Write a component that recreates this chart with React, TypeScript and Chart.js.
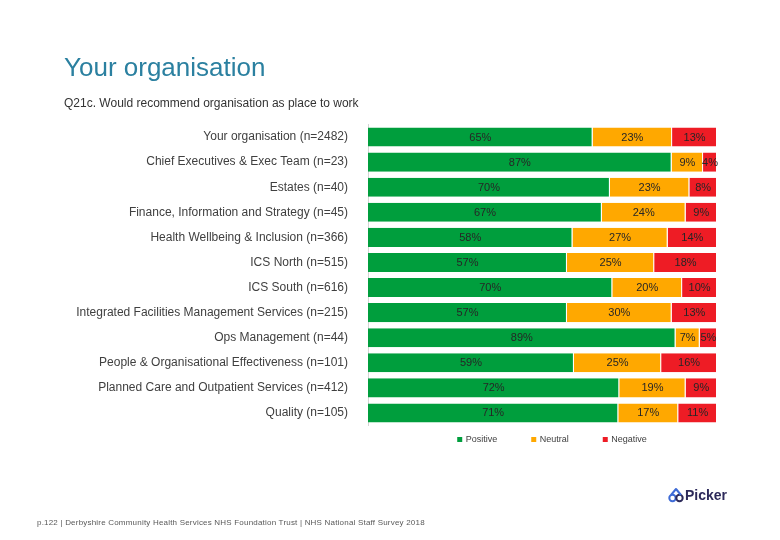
import React, { useEffect, useRef } from "react";
import { Chart, registerables } from "chart.js";

Chart.register(...registerables);

const categories = [
  "Your organisation (n=2482)",
  "Chief Executives & Exec Team (n=23)",
  "Estates (n=40)",
  "Finance, Information and Strategy (n=45)",
  "Health Wellbeing & Inclusion (n=366)",
  "ICS North (n=515)",
  "ICS South (n=616)",
  "Integrated Facilities Management Services (n=215)",
  "Ops Management (n=44)",
  "People & Organisational Effectiveness (n=101)",
  "Planned Care and Outpatient Services (n=412)",
  "Quality (n=105)",
];

const positive = [65, 87, 70, 67, 58, 57, 70, 57, 89, 59, 72, 71];
const neutral = [23, 9, 23, 24, 27, 25, 20, 30, 7, 25, 19, 17];
const negative = [13, 4, 8, 9, 14, 18, 10, 13, 5, 16, 9, 11];

const seriesNames = ["Positive", "Neutral", "Negative"];
const seriesColors = ["#009E3D", "#FFA800", "#EE1C25"];

const rowTotals = categories.map((_, i) => positive[i] + neutral[i] + negative[i]);
const share = (arr: number[]) => arr.map((v, i) => (v / rowTotals[i]) * 100);
const rawSeries = [positive, neutral, negative];

const FONT = "'Liberation Sans', Arial, sans-serif";

const labelsPlugin = {
  id: "segLabels",
  afterDatasetsDraw(chart: any) {
    const ctx = chart.ctx;
    ctx.save();
    ctx.font = `11px ${FONT}`;
    ctx.fillStyle = "#262626";
    ctx.textAlign = "center";
    ctx.textBaseline = "middle";
    chart.data.datasets.forEach((ds: any, di: number) => {
      const meta = chart.getDatasetMeta(di);
      meta.data.forEach((bar: any, i: number) => {
        const x = (bar.x + bar.base) / 2;
        ctx.fillText(`${rawSeries[di][i]}%`, x, bar.y + 0.5);
      });
    });
    ctx.restore();
  },
};

const legendPlugin = {
  id: "customLegend",
  afterDraw(chart: any) {
    const ctx = chart.ctx;
    const area = chart.chartArea;
    ctx.save();
    ctx.font = `9px ${FONT}`;
    ctx.textBaseline = "middle";
    ctx.textAlign = "left";
    const box = 5;
    const gap = 3.5;
    const spacing = 34;
    const widths = chart.data.datasets.map(
      (ds: any) => box + gap + ctx.measureText(ds.label).width
    );
    const total = widths.reduce((a: number, b: number) => a + b, 0) + spacing * (widths.length - 1);
    let x = (area.left + area.right) / 2 + 9.5 - total / 2;
    const y = area.bottom + 14;
    chart.data.datasets.forEach((ds: any, i: number) => {
      ctx.fillStyle = ds.backgroundColor;
      ctx.fillRect(x, y - box / 2, box, box);
      ctx.fillStyle = "#404040";
      ctx.fillText(ds.label, x + box + gap, y);
      x += widths[i] + spacing;
    });
    ctx.restore();
  },
};

function ChartCanvas() {
  const ref = useRef<HTMLCanvasElement | null>(null);
  useEffect(() => {
    if (!ref.current) return;
    const chart = new Chart(ref.current, {
      type: "bar",
      data: {
        labels: categories,
        datasets: rawSeries.map((arr, i) => ({
          label: seriesNames[i],
          data: share(arr),
          backgroundColor: seriesColors[i],
          borderColor: "#ffffff",
          borderWidth: { top: 0, bottom: 0, left: 0, right: 1 },
          borderSkipped: false,
          categoryPercentage: 1,
          barPercentage: 0.76,
        })),
      },
      options: {
        indexAxis: "y",
        animation: false,
        responsive: false,
        maintainAspectRatio: false,
        layout: { padding: { left: 0, right: 63, top: 124.5, bottom: 114.5 } },
        plugins: {
          legend: { display: false },
          tooltip: { enabled: false },
          title: { display: false },
        },
        scales: {
          x: {
            stacked: true,
            min: 0,
            max: 100,
            display: false,
          },
          y: {
            stacked: true,
            grid: { display: false, drawTicks: false },
            border: { display: true, color: "#D4D4D4", width: 1 },
            ticks: {
              color: "#404040",
              padding: 20,
              font: { family: FONT, size: 12 },
              autoSkip: false,
            },
            afterFit(scale: any) {
              scale.width = 368;
            },
          },
        },
      },
      plugins: [labelsPlugin, legendPlugin],
    } as any);
    return () => chart.destroy();
  }, []);
  return (
    <canvas
      ref={ref}
      width={780}
      height={540}
      style={{ position: "absolute", left: 0, top: 0, width: 780, height: 540 }}
    />
  );
}

export default function App() {
  return (
    <div
      style={{
        position: "fixed",
        left: 0,
        top: 0,
        width: 780,
        height: 540,
        background: "#ffffff",
        fontFamily: FONT,
        overflow: "hidden",
      }}
    >
      <ChartCanvas />
      <div
        style={{
          position: "absolute",
          left: 64,
          top: 54,
          fontSize: 26,
          lineHeight: "26px",
          color: "#2B80A0",
          whiteSpace: "nowrap",
        }}
      >
        Your organisation
      </div>
      <div
        style={{
          position: "absolute",
          left: 64,
          top: 97,
          fontSize: 12,
          lineHeight: "12px",
          color: "#333333",
          whiteSpace: "nowrap",
        }}
      >
        Q21c. Would recommend organisation as place to work
      </div>
      <div
        style={{
          position: "absolute",
          left: 37,
          top: 519,
          fontSize: 8,
          lineHeight: "8px",
          letterSpacing: "0.2px",
          color: "#595959",
          whiteSpace: "nowrap",
        }}
      >
        p.122 | Derbyshire Community Health Services NHS Foundation Trust | NHS National Staff Survey 2018
      </div>
      <svg
        width={16}
        height={16}
        viewBox="0 0 16 16"
        style={{ position: "absolute", left: 668, top: 487 }}
      >
        <circle cx={4.5} cy={11} r={3.2} fill="none" stroke="#3E6BD6" strokeWidth={2} />
        <circle cx={11.5} cy={11} r={3.2} fill="none" stroke="#2D2A5A" strokeWidth={2} />
        <path d="M3 8 L8 2 L13 8" fill="none" stroke="#3E6BD6" strokeWidth={2} strokeLinejoin="round" />
      </svg>
      <div
        style={{
          position: "absolute",
          left: 685,
          top: 488,
          fontSize: 14,
          lineHeight: "14px",
          fontWeight: "bold",
          color: "#2D2A5A",
          whiteSpace: "nowrap",
        }}
      >
        Picker
      </div>
    </div>
  );
}
